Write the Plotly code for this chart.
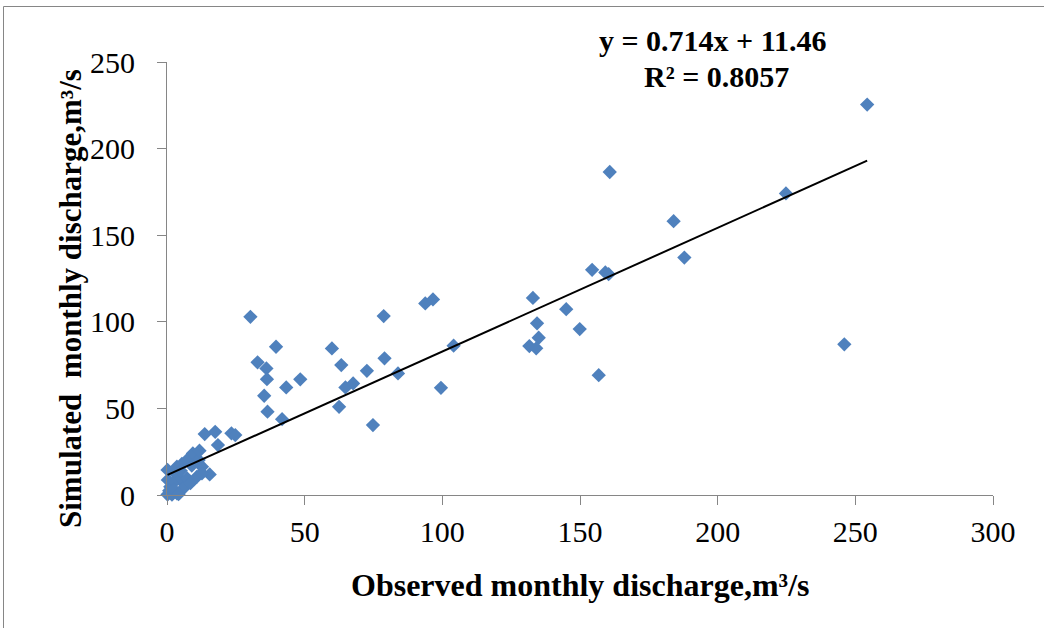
import plotly.graph_objects as go

# Observed (x) and simulated (y) monthly discharge, m3/s
observed = [
    254.3, 224.8, 160.8, 184.0, 187.9, 154.4, 159.2, 160.4, 132.9, 145.0,
    134.4, 149.9, 135.0, 131.6, 134.1, 104.1, 246.0, 156.8, 99.5, 93.8,
    96.6, 30.3, 32.9, 36.1, 36.3, 39.6, 35.3, 36.5, 41.8, 43.3,
    48.4, 59.9, 63.3, 62.5, 64.8, 67.6, 72.6, 78.7, 79.0, 83.9,
    74.8, 13.7, 17.5, 23.4, 24.8, 18.5, 15.5,
    0.2, 0.3, 0.2, 1.2, 1.8, 3.6, 3.0, 3.6, 4.8, 5.4,
    6.0, 7.3, 7.3, 8.5, 9.4, 10.9, 11.5, 11.8, 12.7, 12.7,
    2.0, 5.0, 0.8, 2.5, 4.2, 9.0,
]
simulated = [
    225.4, 174.1, 186.5, 158.1, 137.1, 130.0, 128.5, 127.5, 113.8, 107.3,
    99.1, 95.8, 90.8, 86.0, 84.7, 86.2, 87.0, 69.2, 61.9, 110.6,
    112.9, 102.9, 76.6, 73.1, 66.9, 85.6, 57.3, 48.1, 43.8, 62.1,
    66.8, 84.6, 75.0, 50.9, 62.1, 64.4, 71.7, 103.3, 78.9, 70.2,
    40.4, 35.2, 36.5, 35.6, 34.6, 28.8, 11.9,
    14.5, 8.7, 0.3, 4.8, 0.2, 16.3, 12.5, 1.0, 8.7, 17.9,
    3.9, 20.2, 9.6, 6.8, 24.0, 10.6, 20.2, 25.6, 16.3, 12.5,
    6.5, 14.0, 2.5, 3.0, 0.5, 17.0,
]

# Linear trendline from the chart
slope = 0.714
intercept = 11.46
r_squared = 0.8057

x_ticks = [0, 50, 100, 150, 200, 250, 300]
y_ticks = [0, 50, 100, 150, 200, 250]

x_title = "Observed monthly discharge,m³/s"
y_title = "Simulated\u00a0 monthly discharge,m³/s"

FONT = "Liberation Serif, Times New Roman, serif"
AXIS_GRAY = "#868686"

fig = go.Figure()

fig.add_trace(go.Scatter(
    x=observed, y=simulated, mode="markers",
    marker=dict(symbol="diamond", size=11, color="#4F81BD", line=dict(width=0)),
    cliponaxis=False, showlegend=False,
))

tx = [min(observed), max(observed)]
ty = [slope * v + intercept for v in tx]
fig.add_trace(go.Scatter(
    x=tx, y=ty, mode="lines", line=dict(color="black", width=2),
    cliponaxis=False, showlegend=False,
))

ml, mr, mt, mb = 167, 51, 62, 133
W, H = 1044, 628
pw, ph = W - ml - mr, H - mt - mb

fig.update_layout(
    width=W, height=H,
    margin=dict(l=ml, r=mr, t=mt, b=mb),
    paper_bgcolor="white", plot_bgcolor="white",
    font=dict(family=FONT, color="black", size=30),
    xaxis=dict(
        range=[0, 300], tickvals=x_ticks, showgrid=False, zeroline=False,
        showline=True, linecolor=AXIS_GRAY, linewidth=1,
        ticks="outside", ticklen=9, tickcolor=AXIS_GRAY, tickwidth=1,
        tickfont=dict(family=FONT, size=30, color="black"),
        ticklabelstandoff=1,
    ),
    yaxis=dict(
        range=[0, 250], tickvals=y_ticks, showgrid=False, zeroline=False,
        showline=True, linecolor=AXIS_GRAY, linewidth=1,
        ticks="outside", ticklen=9, tickcolor=AXIS_GRAY, tickwidth=1,
        tickfont=dict(family=FONT, size=30, color="black"),
        ticklabelstandoff=16,
    ),
)

def px_x(p):
    return (p - ml) / pw

def px_y(p):
    return (H - mb - p) / ph

annotations = [
    dict(text=f"<b>{x_title}</b>", x=px_x(580), y=px_y(585),
         xanchor="center", yanchor="middle", font=dict(size=32)),
    dict(text=f"<b>{y_title}</b>", x=px_x(70), y=px_y(299), textangle=-90,
         xanchor="center", yanchor="middle", font=dict(size=31)),
    dict(text=f"<b>y = {slope}x + {intercept}</b>", x=px_x(712.5), y=px_y(40),
         xanchor="center", yanchor="middle", font=dict(size=30)),
    dict(text=f"<b>R² = {r_squared}</b>", x=px_x(716.5), y=px_y(76),
         xanchor="center", yanchor="middle", font=dict(size=30)),
]
for a in annotations:
    a.update(xref="paper", yref="paper", showarrow=False)
fig.update_layout(annotations=annotations)

fig.add_shape(type="rect", xref="paper", yref="paper",
              x0=px_x(3.5), x1=px_x(W + 20), y0=px_y(H + 20), y1=px_y(6.5),
              line=dict(color=AXIS_GRAY, width=1), fillcolor="rgba(0,0,0,0)",
              layer="below")

fig.write_html("out.html")
